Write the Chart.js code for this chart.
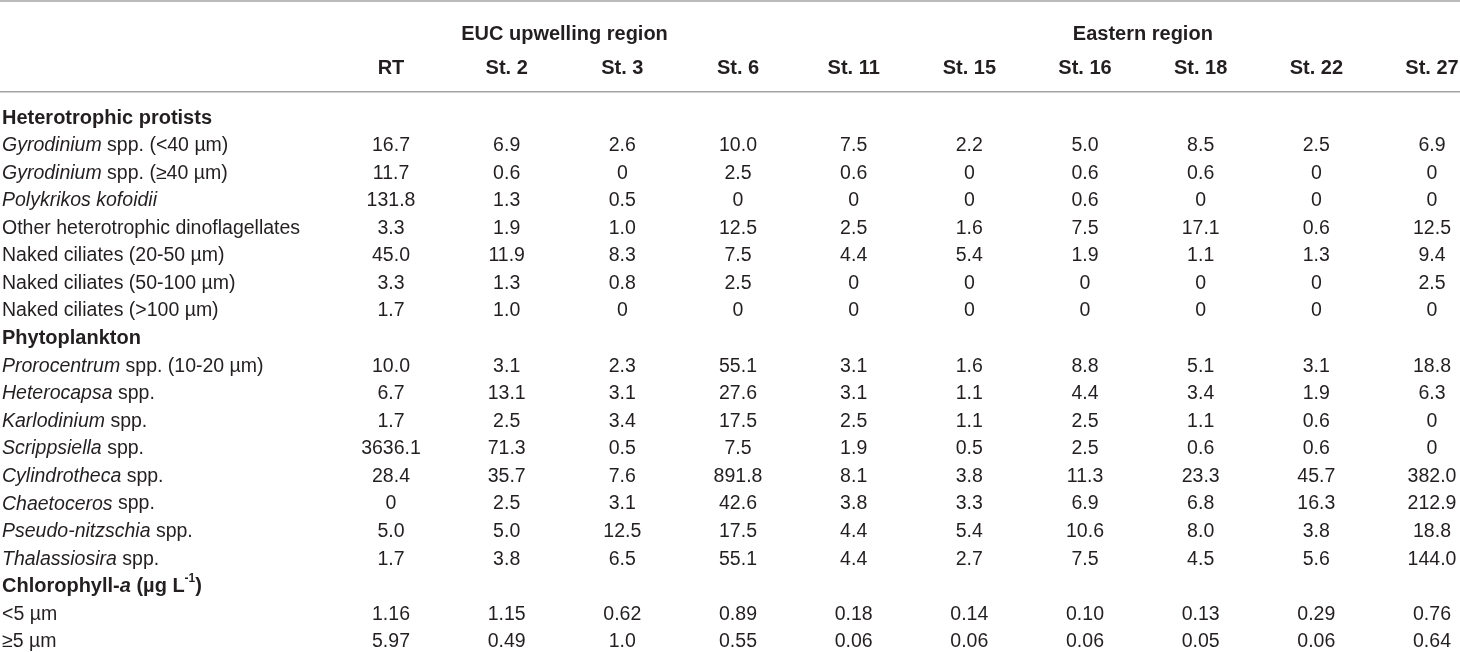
<!DOCTYPE html>
<html>
<head>
<meta charset="utf-8">
<script src="https://cdn.jsdelivr.net/npm/chart.js@4/dist/chart.umd.min.js"></script>
<style>
	html, body { margin: 0; padding: 0; background: #fff; }
	#wrap { width: 1460px; height: 652px; position: relative; }
</style>
</head>
<body>
<div id="wrap"><canvas id="canvas1"></canvas></div>
<script>
	// columns and the two region groups (first and last column of each)
	var columns = ["RT", "St. 2", "St. 3", "St. 6", "St. 11", "St. 15", "St. 16", "St. 18", "St. 22", "St. 27"];
	var groupNames = ["EUC upwelling region", "Eastern region"];
	var groupSpans = [[0, 3], [4, 9]];

	// row labels, _x_ = italic, ^x^ = superscript
	var protistLabel = "Heterotrophic protists";
	var protistRows = [
		"_Gyrodinium_ spp. (<40 µm)",
		"_Gyrodinium_ spp. (≥40 µm)",
		"_Polykrikos kofoidii_",
		"Other heterotrophic dinoflagellates",
		"Naked ciliates (20-50 µm)",
		"Naked ciliates (50-100 µm)",
		"Naked ciliates (>100 µm)"
	];
	var protistValues = [
		["16.7", "6.9", "2.6", "10.0", "7.5", "2.2", "5.0", "8.5", "2.5", "6.9"],
		["11.7", "0.6", "0", "2.5", "0.6", "0", "0.6", "0.6", "0", "0"],
		["131.8", "1.3", "0.5", "0", "0", "0", "0.6", "0", "0", "0"],
		["3.3", "1.9", "1.0", "12.5", "2.5", "1.6", "7.5", "17.1", "0.6", "12.5"],
		["45.0", "11.9", "8.3", "7.5", "4.4", "5.4", "1.9", "1.1", "1.3", "9.4"],
		["3.3", "1.3", "0.8", "2.5", "0", "0", "0", "0", "0", "2.5"],
		["1.7", "1.0", "0", "0", "0", "0", "0", "0", "0", "0"]
	];

	var phytoLabel = "Phytoplankton";
	var phytoRows = [
		"_Prorocentrum_ spp. (10-20 µm)",
		"_Heterocapsa_ spp.",
		"_Karlodinium_ spp.",
		"_Scrippsiella_ spp.",
		"_Cylindrotheca_ spp.",
		"_Chaetoceros_ spp.",
		"_Pseudo-nitzschia_ spp.",
		"_Thalassiosira_ spp."
	];
	var phytoValues = [
		["10.0", "3.1", "2.3", "55.1", "3.1", "1.6", "8.8", "5.1", "3.1", "18.8"],
		["6.7", "13.1", "3.1", "27.6", "3.1", "1.1", "4.4", "3.4", "1.9", "6.3"],
		["1.7", "2.5", "3.4", "17.5", "2.5", "1.1", "2.5", "1.1", "0.6", "0"],
		["3636.1", "71.3", "0.5", "7.5", "1.9", "0.5", "2.5", "0.6", "0.6", "0"],
		["28.4", "35.7", "7.6", "891.8", "8.1", "3.8", "11.3", "23.3", "45.7", "382.0"],
		["0", "2.5", "3.1", "42.6", "3.8", "3.3", "6.9", "6.8", "16.3", "212.9"],
		["5.0", "5.0", "12.5", "17.5", "4.4", "5.4", "10.6", "8.0", "3.8", "18.8"],
		["1.7", "3.8", "6.5", "55.1", "4.4", "2.7", "7.5", "4.5", "5.6", "144.0"]
	];

	var chlLabel = "Chlorophyll-_a_ (µg L^-1^)";
	var chlRows = ["<5 µm", "≥5 µm"];
	var chlValues = [
		["1.16", "1.15", "0.62", "0.89", "0.18", "0.14", "0.10", "0.13", "0.29", "0.76"],
		["5.97", "0.49", "1.0", "0.55", "0.06", "0.06", "0.06", "0.05", "0.06", "0.64"]
	];

	var FONT = "'Liberation Sans', Arial, Helvetica, sans-serif";
	var FONT_SIZE = 19.5;
	var BOLD_SIZE = 20;
	var TEXT_COLOR = "#231f20";
	var RULE_COLOR = "#a3a3a3";

	function $each(arr, fn) {
		for (var i = 0; i < arr.length; i++) fn(i, arr[i]);
	}

	var sectionLabels = [protistLabel, phytoLabel, chlLabel];
	var rowLabels = [];
	var datasets = [];
	[[protistLabel, protistRows, protistValues],
	 [phytoLabel, phytoRows, phytoValues],
	 [chlLabel, chlRows, chlValues]].forEach(function(section) {
		rowLabels.push(section[0]);
		var points = [];
		$each(section[1], function(index, label) {
			rowLabels.push(label);
			$each(section[2][index], function(c, value) {
				points.push({ x: columns[c], y: label, v: value });
			});
		});
		datasets.push({
			label: section[0],
			data: points,
			pointRadius: 0,
			pointHoverRadius: 0,
			showLine: false
		});
	});

	// split "_ital_ text ^sup^" into styled pieces
	function parseLabel(text) {
		var parts = [];
		var cur = "", italic = false, sup = false;
		for (var i = 0; i < text.length; i++) {
			var ch = text[i];
			if (ch === "_" || ch === "^") {
				if (cur) parts.push({ t: cur, i: italic, s: sup });
				cur = "";
				if (ch === "_") italic = !italic; else sup = !sup;
			} else {
				cur += ch;
			}
		}
		if (cur) parts.push({ t: cur, i: italic, s: sup });
		return parts;
	}

	function drawRich(ctx, text, x, y, bold) {
		var parts = parseLabel(text);
		var base = bold ? BOLD_SIZE : FONT_SIZE;
		ctx.textAlign = "left";
		$each(parts, function(index, p) {
			var size = p.s ? Math.round(base * 0.6) : base;
			ctx.font = (p.i ? "italic " : "") + (bold ? "bold " : "") + size + "px " + FONT;
			ctx.fillText(p.t, x, p.s ? y - base * 0.4 : y);
			x += ctx.measureText(p.t).width;
		});
	}

	var tablePlugin = {
		id: "tableText",
		afterDatasetsDraw: function(chart) {
			var ctx = chart.ctx;
			var xs = chart.scales.x;
			var ys = chart.scales.y;
			var area = chart.chartArea;
			var pitch = ys.getPixelForValue(1) - ys.getPixelForValue(0);
			ctx.save();
			ctx.fillStyle = TEXT_COLOR;
			ctx.textBaseline = "middle";

			// cell values
			chart.data.datasets.forEach(function(ds, di) {
				var meta = chart.getDatasetMeta(di);
				ctx.font = FONT_SIZE + "px " + FONT;
				ctx.textAlign = "center";
				meta.data.forEach(function(el, i) {
					ctx.fillText(ds.data[i].v, el.x, el.y);
				});
			});

			// row labels
			rowLabels.forEach(function(label, i) {
				var bold = sectionLabels.indexOf(label) >= 0;
				drawRich(ctx, label, 2, ys.getPixelForValue(i), bold);
			});

			// column headers and region headers
			ctx.font = "bold " + BOLD_SIZE + "px " + FONT;
			ctx.textAlign = "center";
			var headY = area.top - pitch * 1.8;
			columns.forEach(function(col, i) {
				ctx.fillText(col, xs.getPixelForValue(i), headY);
			});
			groupNames.forEach(function(name, g) {
				var x0 = xs.getPixelForValue(groupSpans[g][0]);
				var x1 = xs.getPixelForValue(groupSpans[g][1]);
				ctx.fillText(name, (x0 + x1) / 2, area.top - pitch * 3.03);
			});

			// horizontal rules
			ctx.strokeStyle = RULE_COLOR;
			ctx.lineWidth = 1.5;
			[1, area.top - pitch * 0.95].forEach(function(y) {
				ctx.beginPath();
				ctx.moveTo(0, y);
				ctx.lineTo(chart.width, y);
				ctx.stroke();
			});
			ctx.restore();
		}
	};

	var ctx = document.getElementById("canvas1");
	new Chart(ctx, {
		type: "scatter",
		data: { datasets: datasets },
		options: {
			responsive: true,
			maintainAspectRatio: false,
			animation: false,
			layout: { padding: { left: 391, right: 28, top: 118, bottom: 10 } },
			plugins: { legend: { display: false }, tooltip: { enabled: false } },
			events: [],
			scales: {
				x: { type: "category", labels: columns, offset: false, display: false },
				y: { type: "category", labels: rowLabels, offset: false, display: false }
			}
		},
		plugins: [tablePlugin]
	});
</script>
</body>
</html>
